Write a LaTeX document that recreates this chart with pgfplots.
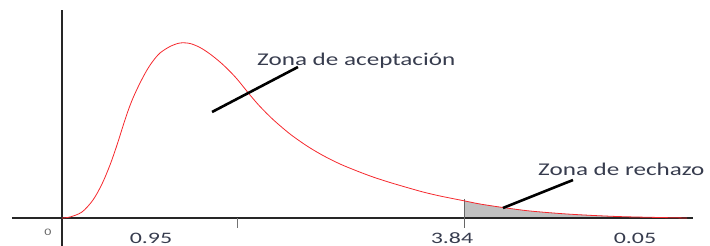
\documentclass[border=0pt]{standalone}
\usepackage{fontspec}
\setmainfont{Carlito}
\usepackage{pgfplots}
\pgfplotsset{compat=1.18}
\definecolor{txt}{RGB}{55,60,78}
\definecolor{curve}{RGB}{245,40,45}
\definecolor{shade}{RGB}{192,192,192}
\begin{document}
\begin{tikzpicture}
\begin{axis}[
  scale only axis, width=710bp, height=246bp,
  xmin=-0.5922, xmax=6.1897, ymin=-28, ymax=218,
  hide axis, clip=false,
  at={(0,0)}, anchor=south west]
% rejection zone
\addplot[fill=shade, draw=none] coordinates {
 (3.8399,0) (3.8399,17.2) (3.9927,14) (4.2124,10.5) (4.4703,7) (4.8524,3.8) (5.3300,1.4) (5.9700,0)} \closedcycle;
% axes
\addplot[black!85, line width=1.3bp] coordinates {(-0.478,0) (6.027,0)};
\addplot[black!85, line width=1.6bp] coordinates {(0,-28) (0,208)};
% ticks
\addplot[black!55, line width=1bp] coordinates {(1.672,0) (1.672,-10)};
\addplot[black!60, line width=1bp] coordinates {(3.84,19) (3.84,-10)};
% density curve
\addplot[curve, smooth, line width=0.8bp] coordinates {
 (0,0) (0.0764,1) (0.1910,6) (0.2961,18) (0.3821,34) (0.4585,53) (0.5254,73)
 (0.5827,92) (0.6304,107) (0.6782,120) (0.7451,135) (0.8119,148) (0.8692,157)
 (0.9361,165) (1.0316,171.5) (1.1271,175) (1.2227,174.5) (1.3182,170.5)
 (1.4137,164) (1.5092,156) (1.5856,148.5) (1.6716,139) (1.7958,123)
 (1.8913,111.5) (2.0155,98.5) (2.1779,84) (2.3403,72) (2.4931,62.5)
 (2.6554,54) (2.8178,47) (2.9707,41) (3.1331,35.5) (3.2955,30.5)
 (3.4483,26) (3.6107,22) (3.8399,17.2) (3.9927,14) (4.2124,10.5)
 (4.4703,7) (4.8524,3.8) (5.3300,1.4) (5.9700,0)};
% annotation pointers
\addplot[black, line width=2.6bp] coordinates {(1.433,106) (2.254,151)};
\addplot[black, line width=2.6bp] coordinates {(4.212,10) (4.881,38)};
% labels
\node[anchor=base west, inner sep=0, text=txt, font=\fontsize{18}{20}\selectfont]
  at (axis cs:1.863,152) {\scalebox{1.4}[1]{Zona de aceptación}};
\node[anchor=base west, inner sep=0, text=txt, font=\fontsize{18}{20}\selectfont]
  at (axis cs:4.547,42) {\scalebox{1.4}[1]{Zona de rechazo}};
\node[anchor=base, inner sep=0, text=txt, font=\fontsize{16}{18}\selectfont]
  at (axis cs:0.850,-25) {\scalebox{1.5}[1]{0.95}};
\node[anchor=base, inner sep=0, text=txt, font=\fontsize{16}{18}\selectfont]
  at (axis cs:3.725,-25.5) {\scalebox{1.5}[1]{3.84}};
\node[anchor=base, inner sep=0, text=txt, font=\fontsize{16}{18}\selectfont]
  at (axis cs:5.473,-25.5) {\scalebox{1.5}[1]{0.05}};
\node[anchor=base, inner sep=0, text=black!60, font=\fontsize{10}{12}\selectfont]
  at (axis cs:-0.134,-17) {\scalebox{1.4}[1]{0}};
\end{axis}
\pgfresetboundingbox
\path[use as bounding box] (0,0) rectangle (710bp,246bp);
\end{tikzpicture}
\end{document}
